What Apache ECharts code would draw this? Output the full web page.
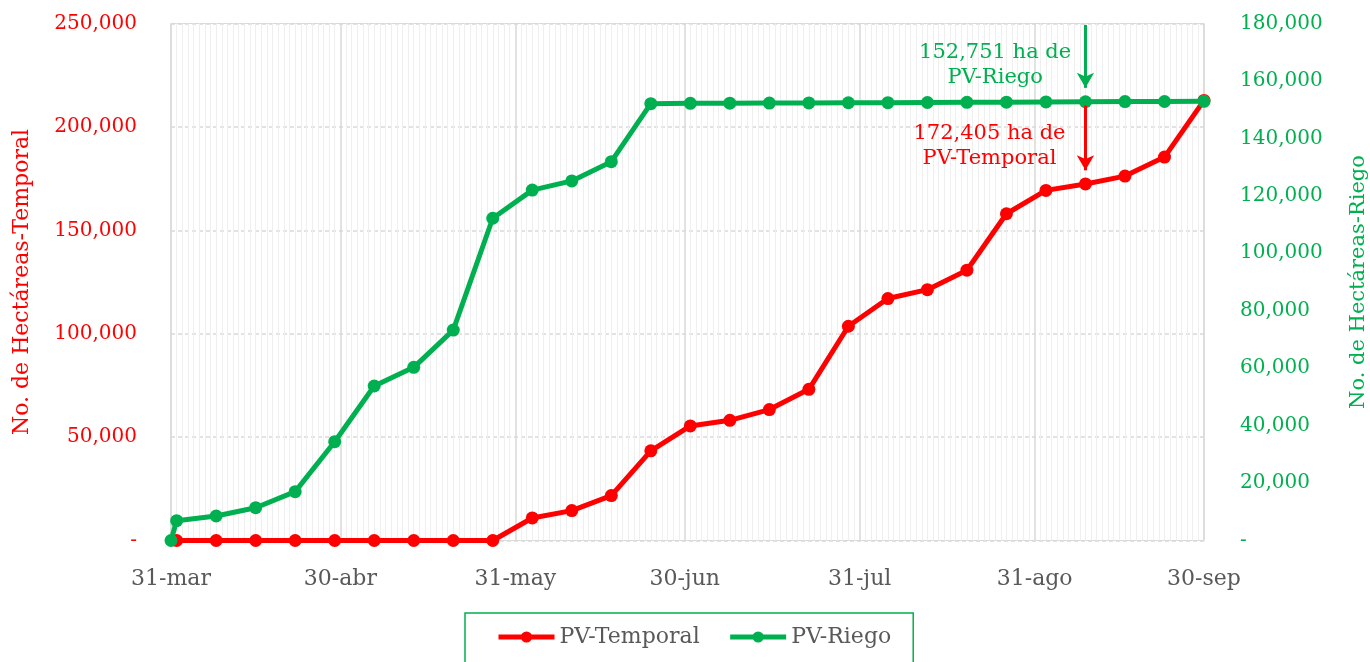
<!DOCTYPE html>
<html><head><meta charset="utf-8">
<script src="https://cdn.jsdelivr.net/npm/echarts@6/dist/echarts.min.js"></script>
<style>html,body{margin:0;padding:0;background:#fff}#c{width:1370px;height:662px}</style>
</head><body><div id="c"></div>
<script>
// Weekly report dates
const fechasSemana = ['2025-04-01','2025-04-08','2025-04-15','2025-04-22','2025-04-29','2025-05-06','2025-05-13','2025-05-20','2025-05-27','2025-06-03','2025-06-10','2025-06-17','2025-06-24','2025-07-01','2025-07-08','2025-07-15','2025-07-22','2025-07-29','2025-08-05','2025-08-12','2025-08-19','2025-08-26','2025-09-02','2025-09-09','2025-09-16','2025-09-23','2025-09-30'];
const fechasRiego = ['2025-03-31'].concat(fechasSemana);
// PV-Temporal (left axis)
const temporal = [0,0,0,0,0,0,0,0,0,10900,14450,21700,43350,55400,58100,63300,73100,103600,117000,121300,130700,158000,169300,172405,176200,185400,212800];
// PV-Riego (right axis)
const riego = [0,6900,8530,11420,17000,34400,53800,60300,73250,112200,122000,125200,131900,152100,152200,152250,152300,152350,152400,152450,152500,152550,152600,152680,152751,152800,152850,152900];
// X tick labels
const fechasEtiqueta = ['2025-03-31','2025-04-30','2025-05-31','2025-06-30','2025-07-31','2025-08-31','2025-09-30'];
const etiquetasX = ['31-mar','30-abr','31-may','30-jun','31-jul','31-ago','30-sep'];
// Annotations
const notaRiego = {fecha:'2025-09-09', valor:152751, texto:'152,751 ha de\nPV-Riego'};
const notaTemporal = {fecha:'2025-09-09', valor:172405, texto:'172,405 ha de\nPV-Temporal'};

// daily categories
const dias = [];
{
  let t = Date.UTC(2025,2,31); const end = Date.UTC(2025,8,30);
  while (t <= end) { dias.push(new Date(t).toISOString().slice(0,10)); t += 86400000; }
}
const idx = d => dias.indexOf(d);
const esEtiqueta = (i) => fechasEtiqueta.indexOf(dias[i]) >= 0;
const FONT = 'DejaVu Serif';
const fmt = v => v === 0 ? '-' : v.toLocaleString('en-US');
const RED = '#ff0000', GREEN = '#00b050';

const chart = echarts.init(document.getElementById('c'));
chart.setOption({
  animation: false,
  textStyle: {fontFamily: FONT},
  grid: {left: 171, right: 166, top: 23.5, bottom: 121.5, show: true, borderColor: '#d9d9d9', borderWidth: 1,
    outerBoundsMode: 'none', containLabel: false},
  legend: {
    top: 613, left: 465,
    data: ['PV-Temporal','PV-Riego'],
    itemWidth: 56, itemHeight: 14, itemGap: 28,
    lineStyle: {width: 5},
    borderColor: GREEN, borderWidth: 1.5, padding: [13, 22, 30, 31],
    textStyle: {color: '#595959', fontSize: 22, fontFamily: FONT}
  },
  xAxis: [{
    type: 'category', data: dias, boundaryGap: false,
    axisLine: {show: false}, axisTick: {show: false},
    axisLabel: {interval: (i) => esEtiqueta(i), formatter: v => etiquetasX[fechasEtiqueta.indexOf(v)],
      color: '#595959', fontSize: 22, fontFamily: FONT, margin: 28},
    splitLine: {show: true, interval: (i) => esEtiqueta(i), lineStyle: {color: '#d9d9d9', width: 1.5}}
  },{
    type: 'category', data: dias, boundaryGap: false, position: 'top',
    axisLine: {show: false}, axisTick: {show: false}, axisLabel: {show: false},
    splitLine: {show: true, interval: (i) => !esEtiqueta(i), lineStyle: {color: '#efefef', width: 1}}
  }],
  yAxis: [{
    type: 'value', min: 0, max: 250000, interval: 50000, position: 'left',
    axisLine: {show: false}, axisTick: {show: false},
    axisLabel: {formatter: fmt, color: RED, fontSize: 20, fontFamily: FONT, margin: 34},
    splitLine: {show: true, lineStyle: {color: '#d9d9d9', type: [4, 3], width: 1.5}},
    name: 'No. de Hectáreas-Temporal', nameLocation: 'middle', nameGap: 138,
    nameTextStyle: {color: RED, fontSize: 22, fontFamily: FONT}
  },{
    type: 'value', min: 0, max: 180000, interval: 20000, position: 'right',
    axisLine: {show: false}, axisTick: {show: false},
    axisLabel: {formatter: fmt, color: GREEN, fontSize: 20, fontFamily: FONT, margin: 36},
    splitLine: {show: false},
    name: 'No. de Hectáreas-Riego', nameLocation: 'middle', nameGap: 144,
    nameTextStyle: {color: GREEN, fontSize: 21, fontFamily: FONT}
  }],
  series: [{
    name: 'PV-Temporal', type: 'line', xAxisIndex: 0, yAxisIndex: 0,
    data: fechasSemana.map((d, i) => [idx(d), temporal[i]]),
    color: RED, lineStyle: {width: 5, color: RED}, itemStyle: {color: RED},
    symbol: 'circle', symbolSize: 13, showAllSymbol: true, z: 3,
    markLine: {
      silent: true, symbol: ['none', 'arrow'], symbolSize: [13, 15],
      lineStyle: {color: RED, width: 3, type: 'solid'}, label: {show: false},
      data: [[{coord: [idx(notaTemporal.fecha), 210300]}, {coord: [idx(notaTemporal.fecha), 179000]}]]
    },
    markPoint: {
      silent: true, symbol: 'circle', symbolSize: 0,
      label: {show: true, position: 'inside', color: RED, fontSize: 21, fontFamily: FONT, lineHeight: 25, align: 'center',
        formatter: () => notaTemporal.texto},
      data: [{coord: [144.5, 190800]}]
    }
  },{
    name: 'PV-Riego', type: 'line', xAxisIndex: 0, yAxisIndex: 1,
    data: fechasRiego.map((d, i) => [idx(d), riego[i]]),
    color: GREEN, lineStyle: {width: 5, color: GREEN}, itemStyle: {color: GREEN},
    symbol: 'circle', symbolSize: 13, showAllSymbol: true, z: 4,
    markLine: {
      silent: true, symbol: ['none', 'arrow'], symbolSize: [13, 15],
      lineStyle: {color: GREEN, width: 3, type: 'solid'}, label: {show: false},
      data: [[{coord: [idx(notaRiego.fecha), 179500]}, {coord: [idx(notaRiego.fecha), 157600]}]]
    },
    markPoint: {
      silent: true, symbol: 'circle', symbolSize: 0,
      label: {show: true, position: 'inside', color: GREEN, fontSize: 21, fontFamily: FONT, lineHeight: 25, align: 'center',
        formatter: () => notaRiego.texto},
      data: [{coord: [146, 165700]}]
    }
  }]
});
</script>
</body></html>
